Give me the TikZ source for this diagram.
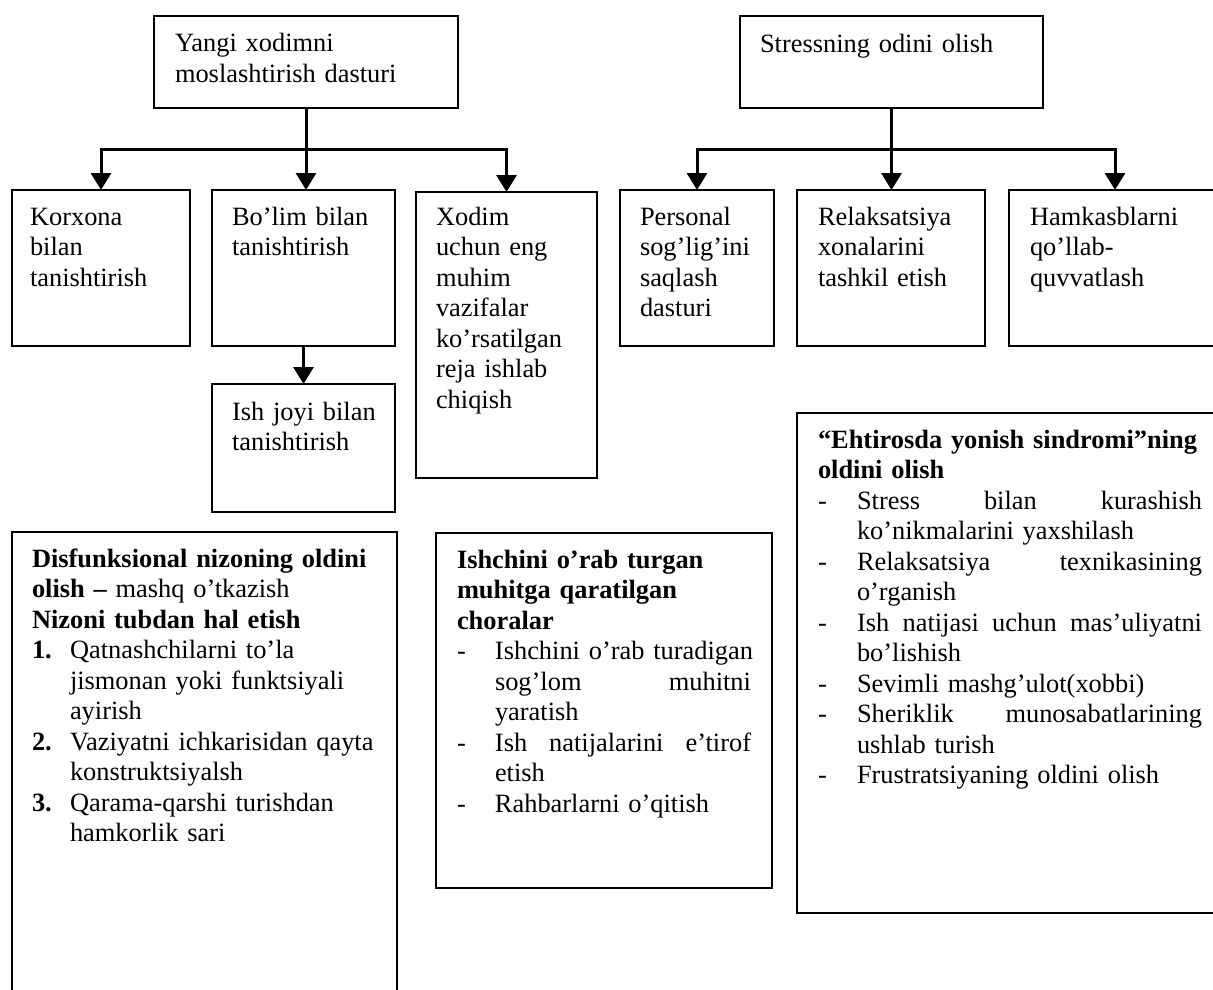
\documentclass[tikz,border=0pt]{standalone}
\usepackage{fontspec}
\setmainfont{Liberation Serif}
\usetikzlibrary{arrows.meta}
\newcommand\ditem[1][38pt]{\makebox[#1][l]{-}}
\newcommand\nitem[1]{\makebox[38pt][l]{\textbf{#1}}}
\newcommand\hind[1][38pt]{\hspace*{#1}}
\newcommand\spreadline[2]{\makebox[#1][l]{#2}}
\begin{document}
\begin{tikzpicture}[x=1pt,y=-1pt,
  box/.style={draw, line width=2.2pt, inner sep=0pt, outer sep=0pt, anchor=north west},
  txt/.style={anchor=base west, inner sep=0pt, outer sep=0pt, text width=#1, align=left,
              font=\fontsize{26.4}{30.5}\selectfont},
  conn/.style={line width=3pt},
  arr/.style={line width=3pt, -{Triangle[width=20pt,length=17pt]}}]
\useasboundingbox (0,0) rectangle (1213,990);
\clip (0,0) rectangle (1213,990);
\fill[white] (0,0) rectangle (1213,990);

% top boxes
\node[box, minimum width=304, minimum height=92] (tl) at (154,16) {};
\node[box, minimum width=303, minimum height=92] (tr) at (740,16) {};
% left row
\node[box, minimum width=178, minimum height=156] (b1) at (12,190) {};
\node[box, minimum width=183, minimum height=156] (b2) at (212,190) {};
\node[box, minimum width=181, minimum height=286] (b3) at (416,192) {};
\node[box, minimum width=183, minimum height=128] (b4) at (212,384) {};
% right row
\node[box, minimum width=154, minimum height=156] (c1) at (620,190) {};
\node[box, minimum width=188, minimum height=156] (c2) at (797,190) {};
\node[box, minimum width=212, minimum height=156] (c3) at (1009,190) {};
% lower boxes
\node[box, minimum width=385, minimum height=500] (d1) at (12,532) {};
\node[box, minimum width=336, minimum height=355] (d2) at (436,533) {};
\node[box, minimum width=424, minimum height=500] (d3) at (797,413) {};

% connectors
\path (tl.south) ++(0,41) coordinate (jl);
\draw[conn] (tl.south) -- (jl);
\draw[arr] (jl) -| (b1.north);
\draw[arr] (jl) -- (jl |- b2.north);
\draw[arr] (jl) -| (b3.north);
\draw[arr] (b2.south) -- (b4.north);
\path (tr.south) ++(0,41) coordinate (jr);
\draw[conn] (tr.south) -- (jr);
\draw[arr] (jr) -| (c1.north);
\draw[arr] (jr) -- (jr |- c2.north);
\draw[arr] (jr) -| (c3.north);

% texts
\node[txt=290] (ttl) at (175,52) {Yangi xodimni\\moslashtirish dasturi};
\node[txt=290] (ttr) at (760,53) {Stressning odini olish};
\node[txt=165] (tb1) at (30,225) {Korxona\\bilan\\tanishtirish};
\node[txt=165] (tb2) at (232,225) {Bo’lim bilan\\tanishtirish};
\node[txt=165] (tb3) at (436,225) {Xodim\\uchun eng\\muhim\\vazifalar\\ko’rsatilgan\\reja ishlab\\chiqish};
\node[txt=165] (tb4) at (232,420) {Ish joyi bilan\\tanishtirish};
\node[txt=150] (tc1) at (640,225) {Personal\\sog’lig’ini\\saqlash\\dasturi};
\node[txt=170] (tc2) at (818,225) {Relaksatsiya\\xonalarini\\tashkil etish};
\node[txt=185] (tc3) at (1030,225) {Hamkasblarni\\qo’llab-\\quvvatlash};

\node[txt=370] (td1) at (32,567) {%
\textbf{Disfunksional nizoning oldini}\\
\textbf{olish –} mashq o’tkazish\\
\textbf{Nizoni tubdan hal etish}\\
\nitem{1.}Qatnashchilarni to’la\\
\hind jismonan yoki funktsiyali\\
\hind ayirish\\
\nitem{2.}Vaziyatni ichkarisidan qayta\\
\hind konstruktsiyalsh\\
\nitem{3.}Qarama-qarshi turishdan\\
\hind hamkorlik sari};

\node[txt=310] (td2) at (457,568) {%
\textbf{Ishchini o’rab turgan}\\
\textbf{muhitga qaratilgan}\\
\textbf{choralar}\\
\ditem Ishchini o’rab turadigan\\
\hind\spreadline{256pt}{sog’lom\hfill muhitni}\\
\hind yaratish\\
\ditem\spreadline{256pt}{Ish\hfill natijalarini\hfill e’tirof}\\
\hind etish\\
\ditem Rahbarlarni o’qitish};

\node[txt=400] (td3) at (818,448) {%
\textbf{“Ehtirosda yonish sindromi”ning}\\
\textbf{oldini olish}\\
\ditem[39pt]\spreadline{345pt}{Stress\hfill bilan\hfill kurashish}\\
\hind[39pt]ko’nikmalarini yaxshilash\\
\ditem[39pt]\spreadline{345pt}{Relaksatsiya\hfill texnikasining}\\
\hind[39pt]o’rganish\\
\ditem[39pt]\spreadline{345pt}{Ish\hfill natijasi\hfill uchun\hfill mas’uliyatni}\\
\hind[39pt]bo’lishish\\
\ditem[39pt]Sevimli mashg’ulot(xobbi)\\
\ditem[39pt]\spreadline{345pt}{Sheriklik\hfill munosabatlarining}\\
\hind[39pt]ushlab turish\\
\ditem[39pt]Frustratsiyaning oldini olish};
\end{tikzpicture}
\end{document}
